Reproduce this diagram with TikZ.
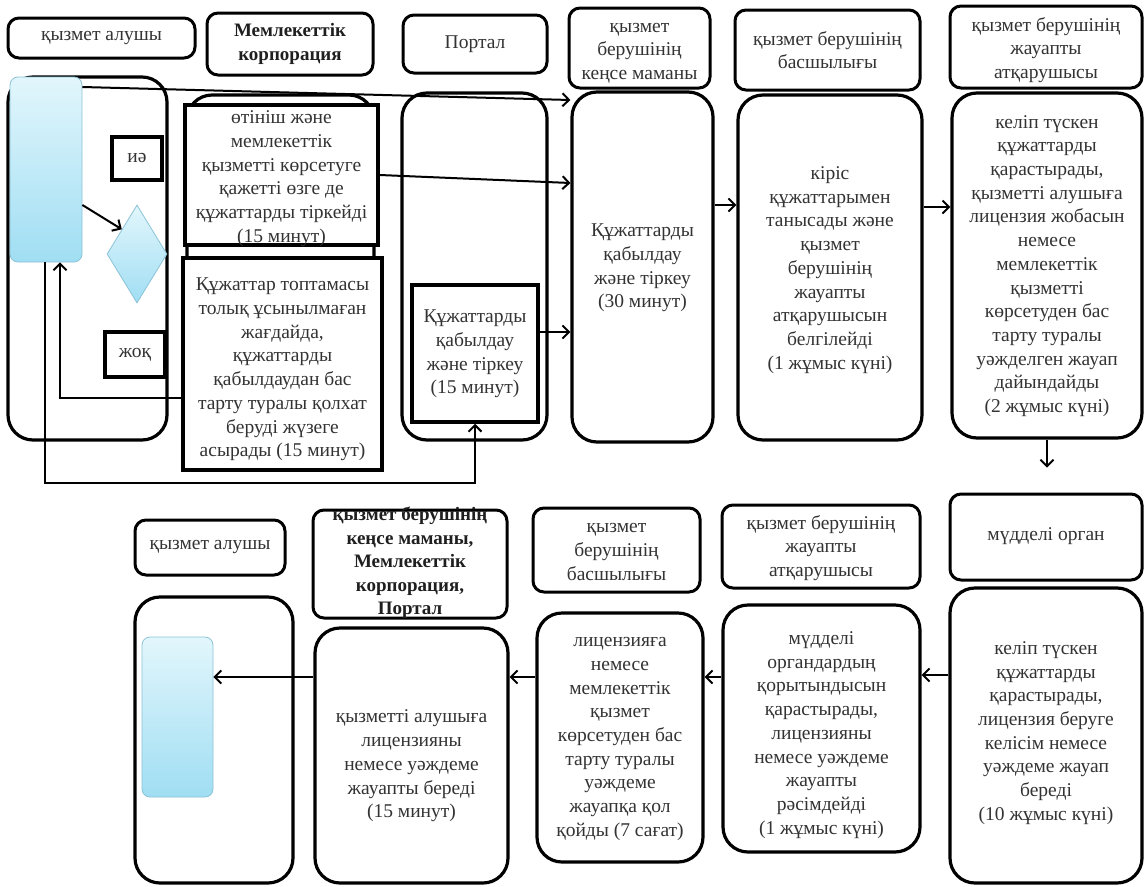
\documentclass[tikz,border=0pt]{standalone}
\usepackage{fontspec}
\setmainfont{Liberation Serif}
\usetikzlibrary{arrows.meta,shapes.geometric}
\definecolor{bluetop}{RGB}{226,246,252}
\definecolor{bluebot}{RGB}{160,222,243}
\definecolor{blueedge}{RGB}{140,195,215}
\tikzset{
  hdr/.style={draw=black, line width=3pt, rounded corners=11pt, fill=white, inner sep=0pt},
  lane/.style={draw=black, line width=3.2pt, rounded corners=25pt, fill=white, inner sep=0pt},
  sq/.style={draw=black, line width=3.5pt, fill=white, inner sep=0pt},
  bluebox/.style={draw=blueedge, line width=0.8pt, rounded corners=8pt, top color=bluetop, bottom color=bluebot, inner sep=0pt},
  txt/.style={align=center, inner sep=0pt, font=\fontsize{19.5}{23.7}\selectfont, text=black!80},
  btxt/.style={align=center, inner sep=0pt, font=\bfseries\fontsize{19}{23.5}\selectfont, text=black!88},
  arr/.style={line width=2pt, -{Straight Barb[length=6.5pt,width=13pt,line width=2pt]}},
}
\newcommand\bx[6]{\node[#2, minimum width={#5-#3}, minimum height={#6-#4}] (#1) at ({(#3+#5)/2},{(#4+#6)/2}) {};}
\newcommand\tx[5]{\node[#2] (#1) at (#3,#4) {#5};}
\begin{document}
\begin{tikzpicture}[x=1pt,y=-1pt]
\useasboundingbox[fill=white] (0,0) rectangle (1145,886);
% ---------- top headers
\bx{h1}{hdr}{8}{18}{195}{58}
\bx{h2}{hdr}{207}{13}{373}{75}
\bx{h3}{hdr}{403}{15}{547}{73}
\bx{h4}{hdr}{569}{8}{710}{88}
\bx{h5}{hdr}{735}{10}{920}{90}
\bx{h6}{hdr}{950}{6}{1142}{88}
% ---------- top lanes
\bx{l1}{lane}{8}{77}{167}{440}
\bx{l2}{lane}{187}{95}{374}{460}
\bx{l3}{lane}{402}{93}{547}{440}
\bx{ken}{lane}{572}{92}{713}{442}
\bx{bas}{lane}{738}{95}{922}{440}
\bx{jau}{lane}{952}{93}{1142}{438}
% inner boxes
\bx{blue1}{bluebox}{10}{77}{82}{262}
\node[diamond, draw=blueedge, line width=0.8pt, top color=bluetop, bottom color=bluebot, minimum width=60pt, minimum height=98pt, inner sep=0pt] (dia) at (137,254) {};
\bx{ie}{sq}{112}{137}{162}{180}
\bx{zhoq}{sq}{105}{332}{165}{377}
\bx{otin}{sq}{185}{105}{378}{245}
\bx{qt}{sq}{183}{258}{382}{470}
\bx{pin}{sq}{412}{285}{538}{422}
% ---------- bottom headers
\bx{g1}{hdr}{135}{520}{285}{575}
\bx{g2}{hdr}{313}{510}{507}{618}
\bx{g3}{hdr}{533}{508}{700}{592}
\bx{g4}{hdr}{722}{505}{920}{588}
\bx{g5}{hdr}{950}{494}{1142}{580}
% ---------- bottom lanes
\bx{m1}{lane}{135}{597}{293}{883}
\bx{qz}{lane}{315}{628}{508}{883}
\bx{lic}{lane}{537}{613}{703}{862}
\bx{mud}{lane}{723}{605}{920}{852}
\bx{kel}{lane}{950}{588}{1142}{883}
\bx{blue2}{bluebox}{142}{637}{213}{797}
% ---------- connectors
\coordinate (c1) at (45,483);
\coordinate (c2) at (475,483);
\draw[arr] (blue1.east |- 0,87) -- (ken.west |- 0,100);
\draw[arr] (otin.east |- 0,175) -- (ken.west |- 0,183);
\draw[arr] (pin.east |- 0,332) -- (ken.west |- 0,332);
\draw[arr] (ken.east |- 0,205) -- (bas.west |- 0,205);
\draw[arr] (bas.east |- 0,207) -- (jau.west |- 0,207);
\draw[arr] (jau.south) -- ++(0,28);
\draw[arr] (kel.west |- 0,675) -- (mud.east |- 0,675);
\draw[arr] (mud.west |- 0,677) -- (lic.east |- 0,677);
\draw[arr] (lic.west |- 0,677) -- (qz.east |- 0,677);
\draw[arr] (qz.west |- 0,677) -- (blue2.east |- 0,677);
\draw[arr] (blue1.east |- 0,205) -- (dia.north west);
\draw[arr] (blue1.south -| c1) -- (c1) -- (c2) -- (pin.south -| c2);
\draw[arr] (qt.west |- 0,398) -| (blue1.south -| 60,0);
% ---------- texts
\tx{h1t}{txt}{101.5}{38}{қызмет алушы}
\tx{h2t}{btxt}{290}{44}{Мемлекеттік\\корпорация}
\tx{h3t}{txt}{475}{44}{Портал}
\tx{h4t}{txt}{639.5}{53}{қызмет\\берушінің\\кеңсе маманы}
\tx{h5t}{txt}{827.5}{50}{қызмет берушінің\\басшылығы}
\tx{h6t}{txt}{1046}{50}{қызмет берушінің\\жауапты\\атқарушысы}
\tx{iet}{txt}{137}{158}{иә}
\tx{zhoqt}{txt}{135}{355}{жоқ}
\tx{otint}{txt}{281.5}{178.5}{өтініш және\\мемлекеттік\\қызметті көрсетуге\\қажетті өзге де\\құжаттарды тіркейді\\(15 минут)}
\tx{qtt}{txt}{282.5}{369.5}{Құжаттар топтамасы\\толық ұсынылмаған\\жағдайда,\\құжаттарды\\қабылдаудан бас\\тарту туралы қолхат\\беруді жүзеге\\асырады (15 минут)}
\tx{pint}{txt}{475}{354}{Құжаттарды\\қабылдау\\және тіркеу\\(15 минут)}
\tx{kent}{txt}{642.5}{268}{Құжаттарды\\қабылдау\\және тіркеу\\(30 минут)}
\tx{bast}{txt}{830}{270}{кіріс\\құжаттарымен\\танысады және\\қызмет\\берушінің\\жауапты\\атқарушысын\\белгілейді\\(1 жұмыс күні)}
\tx{jaut}{txt}{1047}{266}{келіп түскен\\құжаттарды\\қарастырады,\\қызметті алушыға\\лицензия жобасын\\немесе\\мемлекеттік\\қызметті\\көрсетуден бас\\тарту туралы\\уәжделген жауап\\дайындайды\\(2 жұмыс күні)}
\tx{g1t}{txt}{210}{547}{қызмет алушы}
\tx{g2t}{btxt}{410}{563}{қызмет берушінің\\кеңсе маманы,\\Мемлекеттік\\корпорация,\\Портал}
\tx{g3t}{txt}{616.5}{552}{қызмет\\берушінің\\басшылығы}
\tx{g4t}{txt}{821}{548}{қызмет берушінің\\жауапты\\атқарушысы}
\tx{g5t}{txt}{1046}{536}{мүдделі орган}
\tx{qzt}{txt}{411.5}{766}{қызметті алушыға\\лицензияны\\немесе уәждеме\\жауапты береді\\(15 минут)}
\tx{lict}{txt}{620}{739}{лицензияға\\немесе\\мемлекеттік\\қызмет\\көрсетуден бас\\тарту туралы\\уәждеме\\жауапқа қол\\қойды (7 сағат)}
\tx{mudt}{txt}{821.5}{735}{мүдделі\\органдардың\\қорытындысын\\қарастырады,\\лицензияны\\немесе уәждеме\\жауапты\\рәсімдейді\\(1 жұмыс күні)}
\tx{kelt}{txt}{1046}{733}{келіп түскен\\құжаттарды\\қарастырады,\\лицензия беруге\\келісім немесе\\уәждеме жауап\\береді\\(10 жұмыс күні)}
\end{tikzpicture}
\end{document}
